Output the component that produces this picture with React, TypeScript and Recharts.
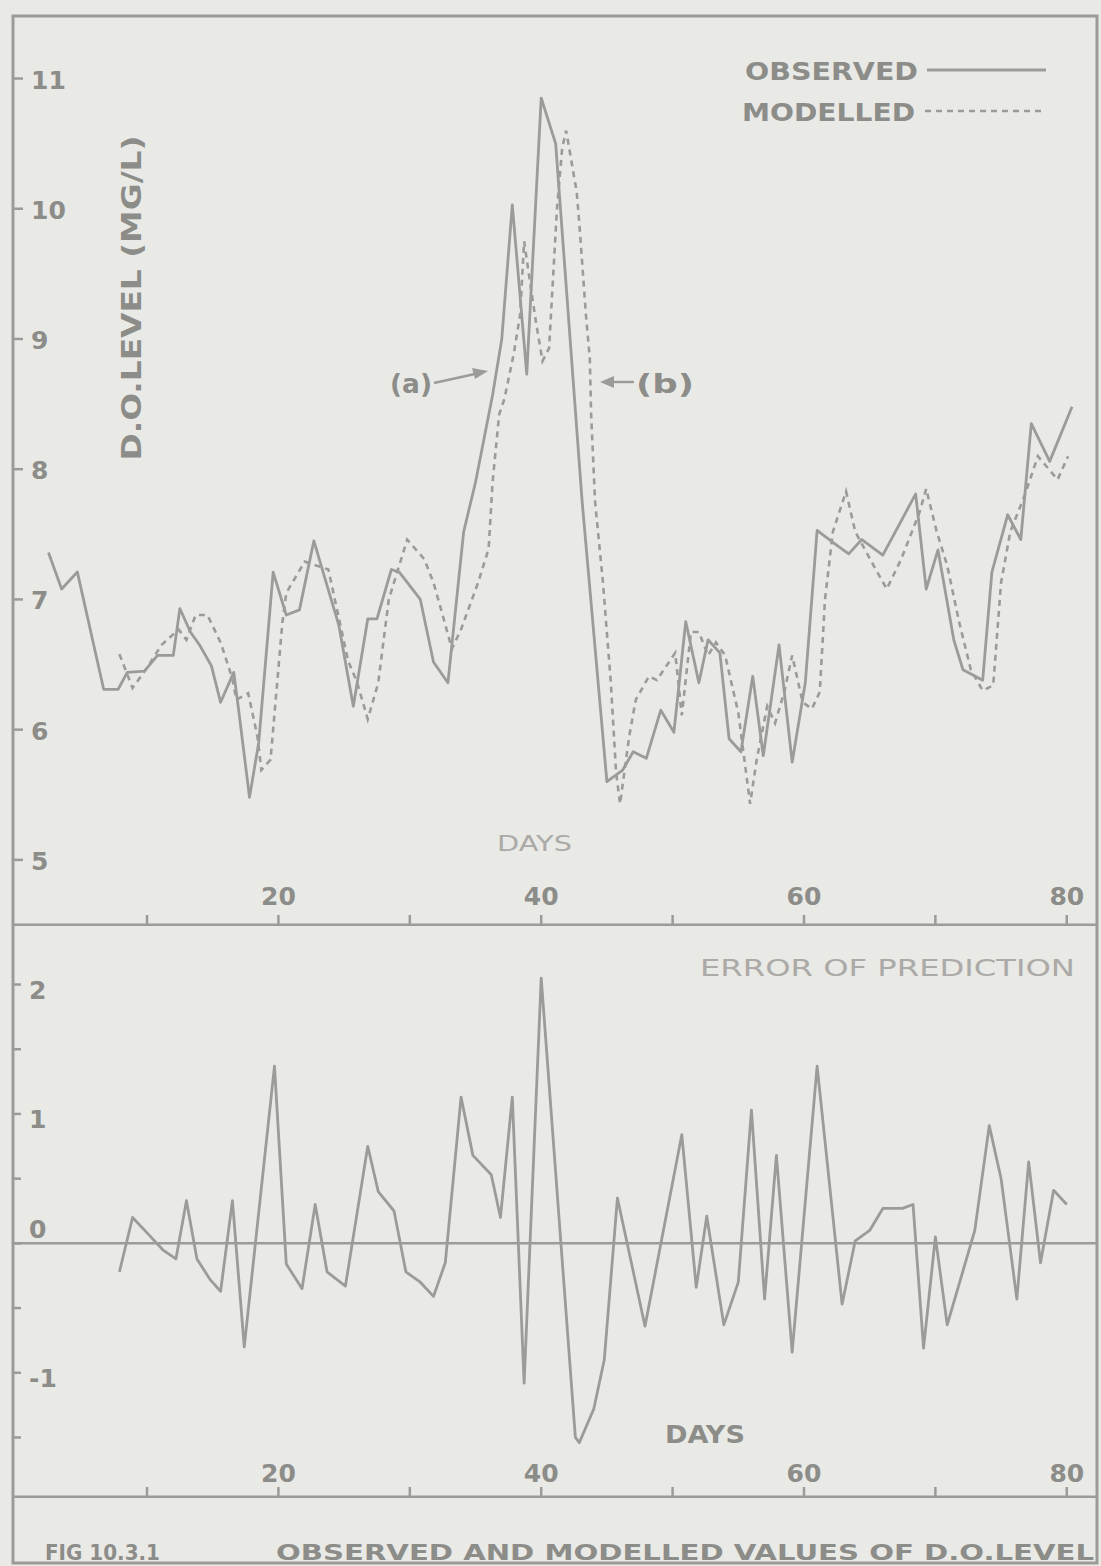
import React from 'react';
import { LineChart, Line, XAxis, YAxis, ReferenceLine } from 'recharts';

// ---------- data ----------
const observedDays = [2.5, 3.5, 4.7, 6.7, 7.8, 8.5, 9.8, 10.8, 12.0, 12.5, 13.3, 14.0, 14.9, 15.6, 16.6, 16.9, 17.8, 18.5, 19.6, 20.6, 21.6, 22.7, 23.4, 24.6, 25.7, 26.8, 27.5, 28.6, 29.2, 30.8, 31.8, 32.9, 34.1, 35.0, 36.3, 37.0, 37.8, 38.9, 40.0, 41.1, 43.1, 45.0, 46.2, 47.0, 48.0, 49.1, 50.1, 51.0, 52.0, 52.7, 53.6, 54.3, 55.2, 56.1, 56.9, 58.1, 59.1, 60.1, 61.0, 62.3, 63.4, 64.4, 66.0, 68.5, 69.3, 70.2, 71.4, 72.1, 73.6, 74.3, 75.5, 76.5, 77.3, 78.7, 80.4];
const observedValues = [7.36, 7.08, 7.21, 6.31, 6.31, 6.44, 6.45, 6.57, 6.57, 6.93, 6.75, 6.65, 6.49, 6.21, 6.44, 6.21, 5.48, 5.9, 7.21, 6.88, 6.92, 7.45, 7.21, 6.8, 6.18, 6.85, 6.85, 7.23, 7.21, 7.0, 6.52, 6.36, 7.52, 7.9, 8.57, 9.0, 10.03, 8.73, 10.85, 10.5, 7.77, 5.6, 5.69, 5.83, 5.78, 6.15, 5.98, 6.83, 6.36, 6.69, 6.59, 5.93, 5.83, 6.41, 5.8, 6.65, 5.75, 6.36, 7.53, 7.43, 7.35, 7.46, 7.34, 7.81, 7.08, 7.38, 6.69, 6.46, 6.38, 7.21, 7.65, 7.46, 8.35, 8.06, 8.48];

const modelledDays = [7.9, 8.9, 9.9, 11.1, 12.4, 13.0, 13.7, 14.6, 15.6, 16.5, 16.8, 17.7, 18.4, 18.7, 19.4, 20.3, 20.6, 22.0, 23.8, 24.4, 25.3, 26.0, 26.8, 27.6, 28.4, 29.8, 31.1, 31.8, 32.5, 33.2, 33.9, 35.2, 36.0, 36.3, 36.8, 37.2, 37.9, 38.4, 38.7, 39.0, 39.6, 40.1, 40.6, 41.2, 41.6, 41.9, 42.7, 42.9, 43.4, 43.7, 43.8, 44.1, 44.7, 45.3, 45.7, 46.0, 46.7, 47.2, 48.2, 48.8, 50.2, 50.7, 51.4, 52.0, 52.7, 53.3, 54.0, 55.0, 55.9, 56.4, 57.2, 57.8, 58.5, 59.1, 59.9, 60.6, 61.2, 61.6, 62.2, 63.2, 63.9, 65.3, 66.3, 67.4, 68.8, 69.3, 70.1, 70.9, 71.8, 72.7, 73.6, 74.4, 75.0, 75.7, 76.8, 77.8, 79.3, 80.1];
const modelledValues = [6.58, 6.32, 6.46, 6.65, 6.77, 6.69, 6.88, 6.88, 6.67, 6.39, 6.23, 6.28, 5.95, 5.69, 5.77, 6.82, 7.05, 7.29, 7.23, 6.95, 6.53, 6.36, 6.08, 6.36, 7.0, 7.46, 7.31, 7.13, 6.88, 6.62, 6.77, 7.13, 7.39, 7.9, 8.42, 8.54, 8.88, 9.19, 9.75, 9.54, 9.13, 8.83, 8.93, 10.0, 10.47, 10.6, 10.13, 9.89, 9.19, 8.85, 8.42, 7.75, 7.13, 6.36, 5.67, 5.43, 5.95, 6.23, 6.41, 6.38, 6.59, 6.11, 6.75, 6.75, 6.57, 6.67, 6.57, 6.13, 5.43, 5.77, 6.18, 6.05, 6.29, 6.57, 6.21, 6.16, 6.29, 7.0, 7.52, 7.83, 7.52, 7.26, 7.08, 7.31, 7.67, 7.85, 7.52, 7.26, 6.83, 6.46, 6.3, 6.34, 7.13, 7.52, 7.8, 8.1, 7.92, 8.1];

const errorDays = [7.9, 8.9, 10.2, 11.2, 12.2, 13.0, 13.8, 14.8, 15.6, 16.5, 17.4, 19.7, 20.6, 21.8, 22.8, 23.7, 25.1, 26.8, 27.6, 28.8, 29.7, 30.8, 31.8, 32.7, 33.9, 34.8, 36.2, 36.9, 37.8, 38.7, 40.0, 42.6, 42.9, 44.0, 44.8, 45.8, 47.9, 50.7, 51.8, 52.6, 53.9, 55.0, 56.0, 57.0, 57.9, 59.1, 61.0, 62.9, 63.9, 65.0, 66.0, 67.5, 68.3, 69.1, 70.0, 70.9, 73.0, 74.1, 75.0, 76.2, 77.1, 78.0, 79.0, 80.0];
const errorValues = [-0.22, 0.2, 0.06, -0.05, -0.12, 0.33, -0.12, -0.28, -0.37, 0.33, -0.8, 1.37, -0.16, -0.35, 0.3, -0.22, -0.33, 0.75, 0.4, 0.25, -0.22, -0.3, -0.41, -0.15, 1.13, 0.68, 0.53, 0.2, 1.13, -1.08, 2.05, -1.5, -1.54, -1.28, -0.9, 0.35, -0.64, 0.84, -0.34, 0.21, -0.63, -0.3, 1.03, -0.43, 0.68, -0.84, 1.37, -0.47, 0.02, 0.1, 0.27, 0.27, 0.3, -0.81, 0.05, -0.63, 0.1, 0.91, 0.5, -0.43, 0.63, -0.15, 0.41, 0.3];

const dayTicks = [10, 20, 30, 40, 50, 60, 70, 80];
const dayTickLabels = ['', '20', '', '40', '', '60', '', '80'];
const levelTicks = [5, 6, 7, 8, 9, 10, 11];
const levelTickLabels = ['5', '6', '7', '8', '9', '10', '11'];
const errorTicks = [-1.5, -1, -0.5, 0, 0.5, 1, 1.5, 2];
const errorTickLabels = ['', '-1', '', '0', '', '1', '', '2'];

const observedData = observedDays.map((d, i) => ({ day: d, value: observedValues[i] }));
const modelledData = modelledDays.map((d, i) => ({ day: d, value: modelledValues[i] }));
const errorData = errorDays.map((d, i) => ({ day: d, value: errorValues[i] }));

// ---------- styles ----------
const INK = '#9b9b98';
const TEXT = '#8c8c89';
const LIGHT = '#abaaa7';
const FONT = '"DejaVu Sans", "Liberation Sans", sans-serif';

function XTick(props: any) {
  const { x, y, payload } = props;
  const i = dayTicks.indexOf(payload.value);
  const label = dayTickLabels[i];
  if (!label) return <g />;
  return (
    <text x={x} y={y} textAnchor="middle" fontFamily={FONT} fontSize={25} fontWeight="bold" fill={TEXT}>
      {label}
    </text>
  );
}

function LevelTick(props: any) {
  const { x, y, payload } = props;
  const i = levelTicks.indexOf(payload.value);
  return (
    <text x={x} y={y + 10} textAnchor="start" fontFamily={FONT} fontSize={25} fontWeight="bold" fill={TEXT}>
      {levelTickLabels[i]}
    </text>
  );
}

function ErrorTick(props: any) {
  const { x, y, payload } = props;
  const i = errorTicks.indexOf(payload.value);
  const label = errorTickLabels[i];
  if (!label) return <g />;
  const dy = payload.value === 0 ? -5 : 14;
  return (
    <text x={x} y={y + dy} textAnchor="start" fontFamily={FONT} fontSize={25} fontWeight="bold" fill={TEXT}>
      {label}
    </text>
  );
}

export default function App() {
  return (
    <div style={{ position: 'relative', width: 1101, height: 1566, background: '#e9e9e6', overflow: 'hidden' }}>
      <style>{'body{margin:0;background:#e9e9e6}'}</style>

      {/* upper panel: D.O. level */}
      <div style={{ position: 'absolute', left: 0, top: 0 }}>
        <LineChart width={1101} height={926} margin={{ top: 16, right: 4, bottom: 1, left: 13 }}>
          <XAxis
            type="number"
            dataKey="day"
            domain={[-0.2, 82.3]}
            ticks={dayTicks}
            interval={0}
            allowDataOverflow
            mirror
            tickSize={10}
            tickMargin={10}
            axisLine={{ stroke: INK, strokeWidth: 3 }}
            tickLine={{ stroke: INK, strokeWidth: 2.5 }}
            tick={(p: any) => <XTick {...p} />}
          />
          <YAxis
            type="number"
            domain={[4.5, 11.48]}
            ticks={levelTicks}
            interval={0}
            allowDataOverflow
            mirror
            tickSize={10}
            tickMargin={8}
            axisLine={false}
            tickLine={{ stroke: INK, strokeWidth: 2.5 }}
            tick={(p: any) => <LevelTick {...p} />}
          />
          <Line
            data={modelledData}
            dataKey="value"
            type="linear"
            stroke={INK}
            strokeWidth={2.6}
            strokeDasharray="6 5"
            dot={false}
            isAnimationActive={false}
          />
          <Line
            data={observedData}
            dataKey="value"
            type="linear"
            stroke={INK}
            strokeWidth={2.8}
            strokeLinejoin="round"
            dot={false}
            isAnimationActive={false}
          />
        </LineChart>
      </div>

      {/* lower panel: error of prediction */}
      <div style={{ position: 'absolute', left: 0, top: 925 }}>
        <LineChart width={1101} height={573} margin={{ top: 0, right: 4, bottom: 1, left: 13 }}>
          <XAxis
            type="number"
            dataKey="day"
            domain={[-0.2, 82.3]}
            ticks={dayTicks}
            interval={0}
            allowDataOverflow
            mirror
            tickSize={10}
            tickMargin={5}
            axisLine={{ stroke: INK, strokeWidth: 3 }}
            tickLine={{ stroke: INK, strokeWidth: 2.5 }}
            tick={(p: any) => <XTick {...p} />}
          />
          <YAxis
            type="number"
            domain={[-1.96, 2.46]}
            ticks={errorTicks}
            interval={0}
            allowDataOverflow
            mirror
            tickSize={8}
            tickMargin={8}
            axisLine={false}
            tickLine={{ stroke: INK, strokeWidth: 2.5 }}
            tick={(p: any) => <ErrorTick {...p} />}
          />
          <ReferenceLine y={0} stroke={INK} strokeWidth={2.5} />
          <Line
            data={errorData}
            dataKey="value"
            type="linear"
            stroke={INK}
            strokeWidth={2.8}
            strokeLinejoin="round"
            dot={false}
            isAnimationActive={false}
          />
        </LineChart>
      </div>

      {/* frame, legend and lettering */}
      <svg
        width={1101}
        height={1566}
        style={{ position: 'absolute', left: 0, top: 0, pointerEvents: 'none' }}
      >
        <rect x={13} y={16} width={1084} height={1547} fill="none" stroke={INK} strokeWidth={3} />

        {/* legend */}
        <text x={745} y={80} fontFamily={FONT} fontSize={25} fontWeight="bold" fill={TEXT} textLength={173} lengthAdjust="spacingAndGlyphs">OBSERVED</text>
        <line x1={927} y1={70} x2={1046} y2={70} stroke={INK} strokeWidth={2.8} />
        <text x={742} y={121} fontFamily={FONT} fontSize={25} fontWeight="bold" fill={TEXT} textLength={173} lengthAdjust="spacingAndGlyphs">MODELLED</text>
        <line x1={925} y1={111} x2={1046} y2={111} stroke={INK} strokeWidth={2.6} strokeDasharray="6 5" />

        {/* y-axis title */}
        <text
          x={0}
          y={0}
          transform="translate(141,298) rotate(-90)"
          textAnchor="middle"
          fontFamily={FONT}
          fontSize={27}
          fontWeight="bold"
          fill={TEXT}
          textLength={325}
          lengthAdjust="spacingAndGlyphs"
        >
          D.O.LEVEL (MG/L)
        </text>

        {/* (a) and (b) pointers */}
        <text x={390} y={393} fontFamily={FONT} fontSize={26} fontWeight="bold" fill={TEXT} textLength={42} lengthAdjust="spacingAndGlyphs">(a)</text>
        <line x1={434} y1={383} x2={484} y2={372} stroke={INK} strokeWidth={2.4} />
        <path d="M472,368 L488,371 L475,379 Z" fill={INK} />
        <line x1={604} y1={382} x2={634} y2={382} stroke={INK} strokeWidth={2.4} />
        <path d="M614,376 L600,382 L614,388 Z" fill={INK} />
        <text x={636} y={393} fontFamily={FONT} fontSize={26} fontWeight="bold" fill={TEXT} textLength={58} lengthAdjust="spacingAndGlyphs">(b)</text>

        {/* axis titles */}
        <text x={497} y={851} fontFamily={FONT} fontSize={22} fill={LIGHT} textLength={75} lengthAdjust="spacingAndGlyphs">DAYS</text>
        <text x={700} y={976} fontFamily={FONT} fontSize={23} fill={LIGHT} textLength={375} lengthAdjust="spacingAndGlyphs">ERROR OF PREDICTION</text>
        <text x={665} y={1443} fontFamily={FONT} fontSize={24} fontWeight="bold" fill={TEXT} textLength={80} lengthAdjust="spacingAndGlyphs">DAYS</text>

        {/* caption */}
        <text x={45} y={1560} fontFamily={FONT} fontSize={21} fontWeight="bold" fill={TEXT} textLength={115} lengthAdjust="spacingAndGlyphs">FIG 10.3.1</text>
        <text x={276} y={1560} fontFamily={FONT} fontSize={22} fontWeight="bold" fill={TEXT} textLength={818} lengthAdjust="spacingAndGlyphs">OBSERVED AND MODELLED VALUES OF D.O.LEVEL</text>
      </svg>
    </div>
  );
}
